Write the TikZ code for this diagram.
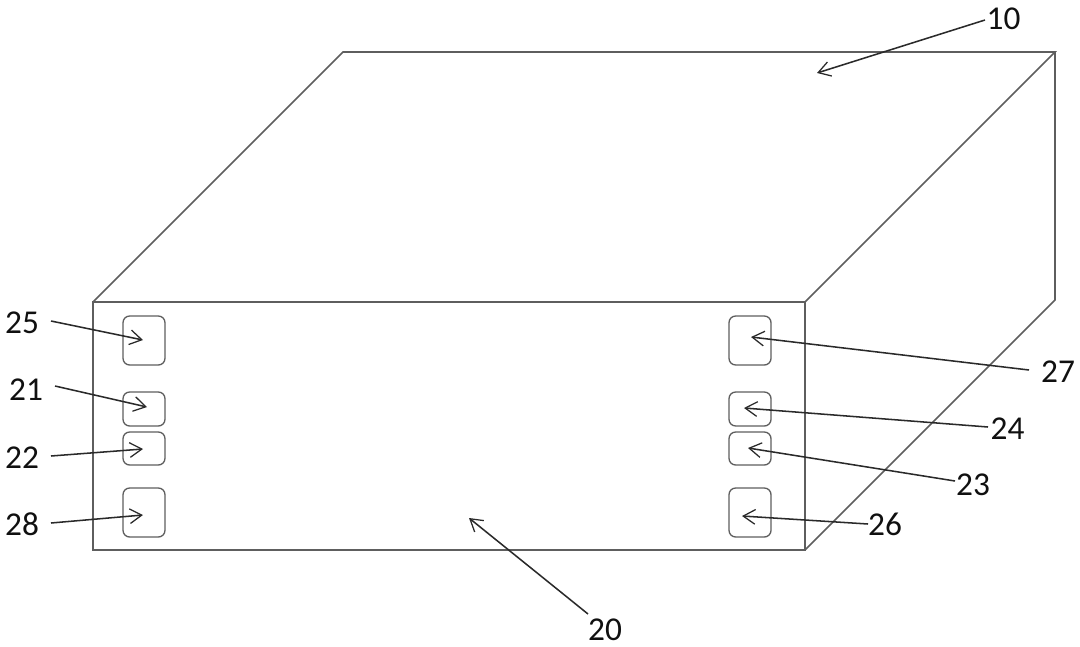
\documentclass[tikz,border=0pt]{standalone}
\usepackage{fontspec}
\setmainfont{Carlito}
\usetikzlibrary{arrows.meta}
\definecolor{edgegray}{HTML}{5E5E5E}
\definecolor{arrowink}{HTML}{2A2A2A}
\definecolor{labelink}{HTML}{101010}
\tikzset{
  x=0.75pt,y=-0.75pt,
  body/.style={draw=edgegray,line width=1.2pt,line join=miter,fill=none},
  port/.style={draw=edgegray,line width=1pt,rounded corners=5pt,fill=none},
  lead/.style={draw=arrowink,line width=1.15pt,-{Straight Barb[length=9pt,width=11pt,line width=0.95pt]}},
  tag/.style={font=\fontsize{25}{28}\selectfont,text=labelink,inner sep=0pt,anchor=center}
}
\newcommand{\portbox}[5]{\node[port,minimum width=#4*0.75pt,minimum height=#5*0.75pt,inner sep=0pt,outer sep=0pt] (#1) at (#2,#3) {};}
\begin{document}
\begin{tikzpicture}
\useasboundingbox (0,0) rectangle (1080,646);
% body
\coordinate (fbl) at (93,550);
\coordinate (ftl) at (93,302);
\coordinate (ftr) at (805,302);
\coordinate (fbr) at (805,550);
\coordinate (btl) at (343,52);
\coordinate (btr) at (1055,52);
\coordinate (bbr) at (1055,300);
\draw[body] (ftl) -- (ftr) -- (fbr) -- (fbl) -- cycle;
\draw[body] (ftl) -- (btl) -- (btr) -- (ftr);
\draw[body] (btr) -- (bbr) -- (fbr);
% ports
\portbox{p25}{144}{340.5}{42}{49}
\portbox{p21}{144}{409}{42}{34}
\portbox{p22}{144}{448.5}{42}{33}
\portbox{p28}{144}{512.5}{42}{49}
\portbox{p27}{750}{340.5}{42}{49}
\portbox{p24}{750}{409}{42}{34}
\portbox{p23}{750}{448.5}{42}{33}
\portbox{p26}{750}{512.5}{42}{49}
% labels
\node[tag] (t25) at (22,322.5) {25};
\node[tag] (t21) at (26,389.5) {21};
\node[tag] (t22) at (22,457.5) {22};
\node[tag] (t28) at (22,524.5) {28};
\node[tag] (t27) at (1058,371.5) {27};
\node[tag] (t24) at (1007.5,428.5) {24};
\node[tag] (t23) at (973,484.5) {23};
\node[tag] (t26) at (885,524.5) {26};
\node[tag] (t10) at (1003.5,18.5) {10};
\node[tag] (t20) at (605,629.5) {20};
% leader ends
\coordinate (s25) at (51,321);  \coordinate (e25) at (143,340);
\coordinate (s21) at (55,386);  \coordinate (e21) at (147,407);
\coordinate (s22) at (51,456);  \coordinate (e22) at (143,449);
\coordinate (s28) at (51,523);  \coordinate (e28) at (143,515);
\coordinate (s27) at (1029,370);\coordinate (e27) at (751,337);
\coordinate (s24) at (988,427); \coordinate (e24) at (744,408);
\coordinate (s23) at (955,481); \coordinate (e23) at (748,448);
\coordinate (s26) at (868,524); \coordinate (e26) at (742,516);
\coordinate (s10) at (985,20);  \coordinate (e10) at (817,73);
\coordinate (s20) at (588,614); \coordinate (e20) at (469,518);
\foreach \n in {25,21,22,28,27,24,23,26,10,20}{
  \draw[lead] (s\n) -- (e\n);
}
\end{tikzpicture}
\end{document}
